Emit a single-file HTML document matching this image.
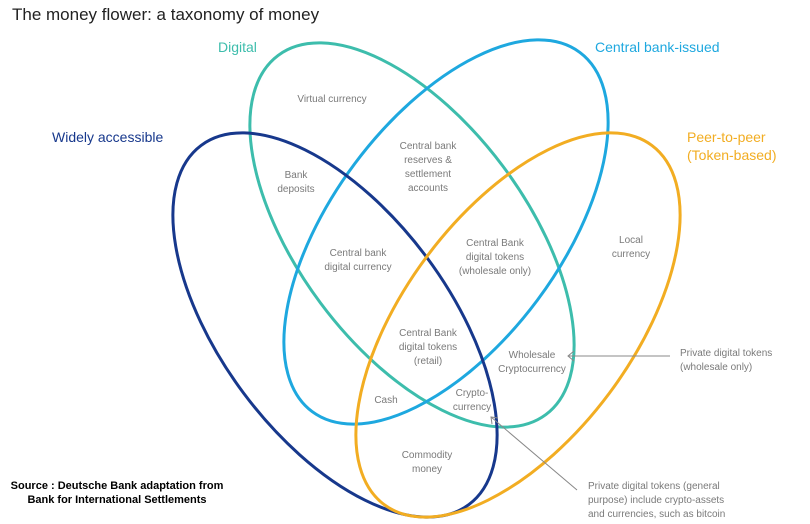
<!DOCTYPE html>
<html><head><meta charset="utf-8"><style>
html,body{margin:0;padding:0;background:#fff;width:810px;height:524px;overflow:hidden;}
svg{display:block;}
.g{font-family:"Liberation Sans",sans-serif;font-size:10px;fill:#7a7a7a;text-anchor:middle;}
.gl{font-family:"Liberation Sans",sans-serif;font-size:10px;fill:#7a7a7a;}
.h{font-family:"Liberation Sans",sans-serif;font-size:14px;}
</style></head><body>
<svg width="810" height="524" viewBox="0 0 810 524" xmlns="http://www.w3.org/2000/svg">
<rect width="810" height="524" fill="#fff"/>
<text x="12" y="20" font-family="Liberation Sans,sans-serif" font-size="17" fill="#222">The money flower: a taxonomy of money</text>
<g fill="none">
<ellipse cx="412" cy="235" rx="224" ry="114" transform="rotate(53.3 412 235)" stroke="#3dbdac" stroke-width="3"/>
<ellipse cx="446" cy="232" rx="224" ry="114" transform="rotate(-53.3 446 232)" stroke="#1ea8df" stroke-width="3"/>
<ellipse cx="335" cy="325" rx="224" ry="114" transform="rotate(53.3 335 325)" stroke="#17388c" stroke-width="3"/>
<ellipse cx="518" cy="325" rx="224" ry="114" transform="rotate(-53.3 518 325)" stroke="#f2ad22" stroke-width="3"/>
</g>
<text class="h" x="218" y="52" fill="#3dbdac">Digital</text>
<text class="h" x="595" y="52" fill="#1ea8df">Central bank-issued</text>
<text class="h" x="52" y="142" fill="#17388c">Widely accessible</text>
<text class="h" x="687" y="142" fill="#f2ad22">Peer-to-peer</text>
<text class="h" x="687" y="160" fill="#f2ad22">(Token-based)</text>
<g class="g">
<text x="332" y="102">Virtual currency</text>
<text x="296" y="178">Bank</text><text x="296" y="192">deposits</text>
<text x="428" y="149">Central bank</text><text x="428" y="163">reserves &amp;</text><text x="428" y="177">settlement</text><text x="428" y="191">accounts</text>
<text x="358" y="256">Central bank</text><text x="358" y="270">digital currency</text>
<text x="495" y="246">Central Bank</text><text x="495" y="260">digital tokens</text><text x="495" y="274">(wholesale only)</text>
<text x="631" y="243">Local</text><text x="631" y="257">currency</text>
<text x="428" y="336">Central Bank</text><text x="428" y="350">digital tokens</text><text x="428" y="364">(retail)</text>
<text x="532" y="358">Wholesale</text><text x="532" y="372">Cryptocurrency</text>
<text x="386" y="403">Cash</text>
<text x="472" y="396">Crypto-</text><text x="472" y="410">currency</text>
<text x="427" y="458">Commodity</text><text x="427" y="472">money</text>
</g>
<g class="gl">
<text x="680" y="356">Private digital tokens</text><text x="680" y="370">(wholesale only)</text>
<text x="588" y="489">Private digital tokens (general</text><text x="588" y="503">purpose) include crypto-assets</text><text x="588" y="517">and currencies, such as bitcoin</text>
</g>
<g stroke="#888" stroke-width="1" fill="none">
<line x1="670" y1="356" x2="568" y2="356"/>
<polyline points="574,351 568,356 574,361"/>
<line x1="577" y1="490" x2="491" y2="417"/>
<polyline points="492,424 491,417 498,418"/>
</g>
<text x="117" y="489" text-anchor="middle" font-family="Liberation Sans,sans-serif" font-size="11" font-weight="bold" fill="#000">Source : Deutsche Bank adaptation from</text>
<text x="117" y="503" text-anchor="middle" font-family="Liberation Sans,sans-serif" font-size="11" font-weight="bold" fill="#000">Bank for International Settlements</text>
</svg>
</body></html>
